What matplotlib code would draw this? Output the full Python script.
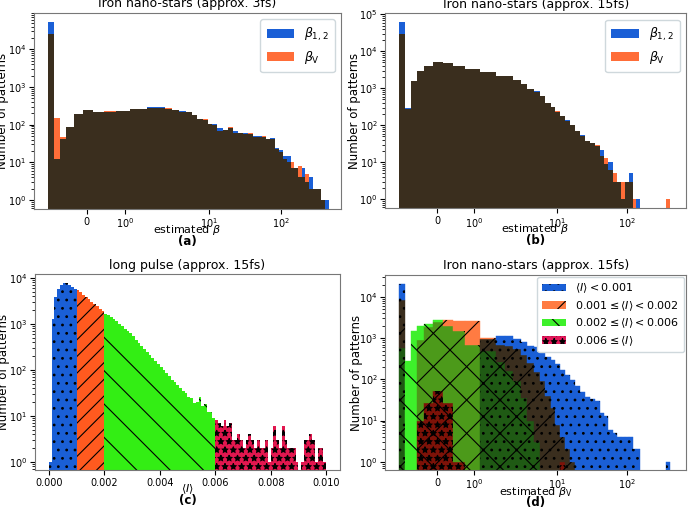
import numpy as np
import matplotlib.pyplot as plt
from matplotlib.patches import Patch

# ---- data -------------------------------------------------------------
# bin edges of the estimated-beta histograms, in axis units
# (axis tick "0" sits at 0, "10^0" at 1, "10^1" at 3.22, "10^2" at 5.1)
beta_edges = [-1.01, -0.87, -0.71, -0.54, -0.34, -0.11, 0.15, 0.44, 0.76, 1.14,
              1.59, 1.82, 2.05, 2.24, 2.42, 2.60, 2.75, 2.90, 3.05, 3.17,
              3.30, 3.43, 3.57, 3.70, 3.83, 3.97, 4.10, 4.24, 4.37, 4.49,
              4.59, 4.71, 4.82, 4.93, 5.04, 5.15, 5.26, 5.35, 5.44, 5.54,
              5.64, 5.74, 5.84, 5.94, 6.04, 6.14, 6.25, 6.35]
beta_tick_pos = [0, 1, 3.22, 5.1]
beta_tick_labels = ['0', '$10^0$', '$10^1$', '$10^2$']

# (a) Iron nano-stars, approx. 3fs
a_beta12 = [54000, 12, 41, 88, 187, 245, 212, 220, 225, 255,
            292, 290, 265, 248, 225, 212, 180, 138, 130, 104,
            104, 80, 72, 80, 69, 59, 62, 55, 50, 50,
            46, 41, 45, 24, 21, 15, 15, 7, 7, 4,
            7, 3, 4, 2, 2, 1, 1]
a_betaV = [26000, 147, 48, 88, 187, 245, 212, 232, 232, 255,
           285, 285, 275, 240, 222, 212, 180, 138, 138, 104,
           100, 70, 72, 88, 62, 59, 58, 59, 46, 47,
           50, 41, 41, 23, 19, 12, 10, 10, 7, 8,
           4, 5, 2, 2, 2, 1, 0]

# (b) Iron nano-stars, approx. 15fs
b_beta12 = [61000, 285, 1540, 2930, 4100, 5100, 4800, 4100, 3300, 2700,
            2100, 2100, 1700, 1290, 980, 830, 610, 400, 313, 235,
            177, 140, 100, 70, 55, 38, 34, 27, 21, 9,
            10, 3, 3, 1, 3, 5, 0, 1, 0, 0,
            0, 0, 0, 0, 0, 0, 0]
b_betaV = [29000, 280, 1540, 2930, 4100, 5100, 4800, 4100, 3300, 2700,
           2100, 2100, 1700, 1290, 980, 790, 610, 400, 313, 250,
           177, 130, 100, 70, 50, 38, 34, 30, 15, 13,
           6, 5, 3, 3, 3, 3, 1, 0, 0, 0,
           0, 0, 0, 0, 0, 1, 0]

# (c) long pulse, histogram of mean intensity <I>, 100 bins on [0, 0.01]
c_edges = np.linspace(0, 0.01, 101)
c_counts = [1, 1300, 3800, 5700, 7100, 7700, 7700, 7100, 6300, 5700,
            5400, 4900, 4300, 3850, 3400, 3000, 2700, 2400, 2100, 1900,
            1650, 1530, 1390, 1290, 1130, 1000, 880, 785, 690, 630,
            535, 450, 385, 325, 290, 250, 213, 180, 152, 133,
            118, 100, 85, 74, 61, 53, 47, 40, 34, 31,
            26, 24, 19, 20, 26, 16, 18, 12, 12, 9,
            8, 7, 6, 8, 6, 7, 3, 3, 4, 3,
            2, 3, 4, 3, 2, 3, 2, 2, 3, 1,
            2, 6, 3, 2, 6, 3, 2, 2, 2, 1,
            0, 1, 3, 3, 4, 3, 1, 2, 2, 1]
c_splits = [0, 10, 20, 60, 100]   # bin indices of 0.001, 0.002, 0.006

# (d) Iron nano-stars 15fs, beta_V split by <I>
d_low = [21000, 0, 0, 0, 0, 0, 0, 0, 0, 950,
         1100, 1100, 950, 800, 650, 600, 500, 350, 290, 240,
         170, 128, 99, 70, 50, 38, 34, 30, 15, 13,
         6, 5, 4, 4, 4, 4, 2, 2, 0, 0,
         0, 0, 0, 0, 0, 1, 0]
d_mid1 = [8300, 0, 0, 900, 1900, 2400, 2800, 2600, 2600, 1000,
          700, 650, 550, 380, 250, 150, 90, 40, 20, 8,
          4, 2, 1, 0, 0, 0, 0, 0, 0, 0,
          0, 0, 0, 0, 0, 0, 0, 0, 0, 0,
          0, 0, 0, 0, 0, 0, 0]
d_mid2 = [560, 280, 1500, 2000, 2200, 2700, 2000, 1500, 700, 500,
          260, 160, 90, 35, 10, 3, 0, 0, 0, 0,
          0, 0, 0, 0, 0, 0, 0, 0, 0, 0,
          0, 0, 0, 0, 0, 0, 0, 0, 0, 0,
          0, 0, 0, 0, 0, 0, 0]
d_high = [0, 0, 0, 10, 26, 52, 26, 1, 0, 0,
          0, 0, 0, 0, 0, 0, 0, 0, 0, 0,
          1, 0, 0, 0, 0, 0, 0, 0, 0, 0,
          0, 0, 0, 0, 0, 0, 0, 0, 0, 0,
          0, 0, 0, 0, 0, 0, 0]
d_labels = [r'$\langle I\rangle < 0.001$',
            r'$0.001 \leq \langle I\rangle < 0.002$',
            r'$0.002 \leq \langle I\rangle < 0.006$',
            r'$0.006 \leq \langle I\rangle$']

# ---- style ------------------------------------------------------------
BLUE = '#1a5fd6'
ORANGE = '#ff6d38'
DARK = '#3a2e1e'
GREEN = '#33ee14'
CRIMSON = '#e3174f'
RED_ORANGE = '#ff5a1f'
hatch_c = ['..', '//', '\\', '**']
hatch_d = ['..', '/', '\\', '**']
colors_c = [BLUE, RED_ORANGE, GREEN, CRIMSON]
colors_d = [BLUE, '#ff7b42', '#3ef02b', '#e3175a']

# colour of a (d) region by which groups overlap there
overlap_colors = {
    frozenset([0]): BLUE,
    frozenset([1]): '#ff7b42',
    frozenset([2]): '#3ef02b',
    frozenset([0, 1]): DARK,
    frozenset([1, 2]): '#4c9a1a',
    frozenset([0, 2]): '#1f5a14',
    frozenset([0, 1, 2]): '#1f5a14',
}
DARK_RED = '#7d1208'

plt.rcParams['font.family'] = ['DejaVu Sans']
plt.rcParams['font.size'] = 8
plt.rcParams['hatch.linewidth'] = 0.8


def fill_stairs(ax, vals, edges, color, base, **kw):
    v = np.asarray(vals, float)
    v = np.where(v > 0, v, base)
    ax.stairs(v, edges, fill=True, baseline=base, facecolor=color,
              edgecolor=kw.pop('edgecolor', color), linewidth=0, **kw)


def style_axes(ax, title, ylim, ylab_x):
    ax.set_yscale('log')
    ax.set_ylim(*ylim)
    ax.set_title(title, fontsize=9, pad=4)
    ax.set_ylabel('Number of patterns', fontsize=8.5)
    ax.yaxis.set_label_coords(ylab_x, 0.5)
    ax.tick_params(labelsize=7, pad=2)
    for s in ax.spines.values():
        s.set_color('#777777')


fig = plt.figure(figsize=(6.92, 5.09), dpi=100)
ax_a = fig.add_axes([0.049, 0.5894, 0.444, 0.3851])
ax_b = fig.add_axes([0.5568, 0.5908, 0.4345, 0.3831])
ax_c = fig.add_axes([0.0506, 0.0766, 0.4407, 0.3845])
ax_d = fig.add_axes([0.5568, 0.0766, 0.4345, 0.3831])

# (a), (b)
for ax, b12, bv, title, ylim, tag in [
        (ax_a, a_beta12, a_betaV, 'Iron nano-stars (approx. 3fs)', (0.58, 9.2e4), '(a)'),
        (ax_b, b_beta12, b_betaV, 'Iron nano-stars (approx. 15fs)', (0.57, 1.07e5), '(b)')]:
    base = 0.1
    fill_stairs(ax, b12, beta_edges, BLUE, base, label=r'$\beta_{1,2}$')
    fill_stairs(ax, bv, beta_edges, ORANGE, base, label=r'$\beta_{\rm V}$')
    fill_stairs(ax, np.minimum(b12, bv), beta_edges, DARK, base)
    style_axes(ax, title, ylim, -0.08)
    ax.set_xlim(-1.39, 6.68)
    ax.set_xticks(beta_tick_pos, beta_tick_labels)
    ax.set_xlabel(r'estimated $\beta$', fontsize=8)
    ax.xaxis.set_label_coords(0.5, -0.072)
    ax.text(0.5, -0.165, tag, transform=ax.transAxes, ha='center', va='center',
            fontsize=8.5, fontweight='bold')
    ax.legend(loc='upper right', fontsize=9, handlelength=2.2, borderpad=0.5,
              framealpha=1, edgecolor='#cfd8dc')

# (c)
for k in range(4):
    i0, i1 = c_splits[k], c_splits[k + 1]
    fill_stairs(ax_c, c_counts[i0:i1], c_edges[i0:i1 + 1], colors_c[k], 0.1,
                hatch=hatch_c[k], edgecolor='k')
style_axes(ax_c, 'long pulse (approx. 15fs)', (0.66, 1.2e4), -0.083)
ax_c.set_xlim(-0.0005, 0.0105)
ax_c.set_xticks([0, 0.002, 0.004, 0.006, 0.008, 0.010])
ax_c.xaxis.set_major_formatter(plt.FormatStrFormatter('%.3f'))
ax_c.set_xlabel(r'$\langle I\rangle$', fontsize=8)
ax_c.xaxis.set_label_coords(0.5, -0.062)
ax_c.text(0.5, -0.155, '(c)', transform=ax_c.transAxes, ha='center', va='center',
          fontsize=8.5, fontweight='bold')

# (d) overlapping groups, coloured by overlap
groups = np.array([d_low, d_mid1, d_mid2, d_high], float)
edges = np.asarray(beta_edges)
base = 0.1
for i in range(groups.shape[1]):
    h = groups[:, i]
    levels = sorted(set([base] + [v for v in h if v > 0]))
    for lo, hi in zip(levels[:-1], levels[1:]):
        cover = frozenset(g for g in range(4) if h[g] >= hi)
        if 3 in cover:
            col = DARK_RED
        else:
            col = overlap_colors[cover]
        ax_d.bar(edges[i], hi - lo, width=edges[i + 1] - edges[i], bottom=lo,
                 align='edge', color=col, edgecolor=col, linewidth=0.3)
for g in range(4):
    v = np.where(groups[g] > 0, groups[g], base)
    ax_d.stairs(v, edges, fill=True, baseline=base, facecolor='none',
                edgecolor='k', linewidth=0, hatch=hatch_d[g])
style_axes(ax_d, 'Iron nano-stars (approx. 15fs)', (0.63, 3.4e4), -0.075)
ax_d.set_xlim(-1.39, 6.68)
ax_d.set_xticks(beta_tick_pos, beta_tick_labels)
ax_d.set_xlabel(r'estimated $\beta_{\rm V}$', fontsize=8)
ax_d.xaxis.set_label_coords(0.5, -0.078)
ax_d.text(0.5, -0.165, '(d)', transform=ax_d.transAxes, ha='center', va='center',
          fontsize=8.5, fontweight='bold')
handles = [Patch(facecolor=colors_d[g], edgecolor='k', linewidth=0,
                 hatch=hatch_d[g], label=d_labels[g]) for g in range(4)]
ax_d.legend(handles=handles, loc='upper right', fontsize=8, handlelength=2.2,
            labelspacing=0.35, borderaxespad=0.2, framealpha=1,
            edgecolor='#cfd8dc')

fig.savefig('out.png', dpi=100)
